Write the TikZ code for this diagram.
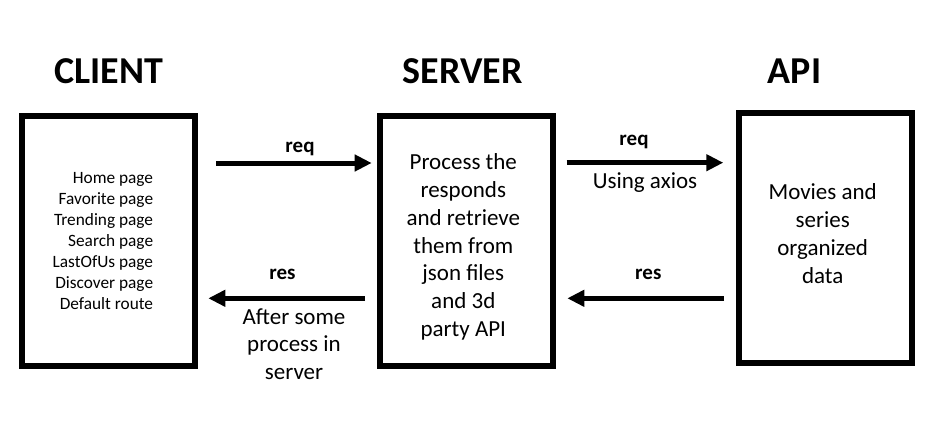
\documentclass[tikz,border=0pt]{standalone}
\usepackage{fontspec}
\setmainfont{Carlito}
\usetikzlibrary{arrows.meta}
\begin{document}
\begin{tikzpicture}[x=1pt,y=-1pt,
  box/.style={draw=black, line width=6pt, fill=white, inner sep=0pt},
  flow/.style={line width=5pt, -{Triangle[length=17pt,width=16pt]}},
  heading/.style={font=\fontsize{38}{42}\selectfont\bfseries, anchor=base, inner sep=0pt},
  lbl/.style={font=\fontsize{21}{25}\selectfont\bfseries, anchor=base, inner sep=0pt},
  body/.style={font=\fontsize{23}{27.8}\selectfont, inner sep=0pt, align=center},
  small/.style={font=\fontsize{17.3}{21}\selectfont, inner sep=0pt, align=right}
]
\useasboundingbox[fill=white] (0,0) rectangle (927,429);

% headings
\node[heading] (hclient) at (108.5,83) {CLIENT};
\node[heading] (hserver) at (462.5,83) {SERVER};
\node[heading] (hapi) at (794.5,83) {API};

% boxes
\node[box, minimum width=173.2pt, minimum height=250.3pt] (client) at (108.1,241.15) {};
\node[box, minimum width=173pt, minimum height=250.3pt] (server) at (466.5,241.15) {};
\node[box, minimum width=173.3pt, minimum height=250pt] (api) at (825.65,238) {};

% box texts
\node[small, anchor=east] (clist) at (153.3,241.5) {Home page\\Favorite page\\Trending page\\Search page\\LastOfUs page\\Discover page\\Default route};
\node[body] (stext) at (463.3,247) {Process the\\responds\\and retrieve\\them from\\json files\\and 3d\\party API};
\node[body] (atext) at (822.7,233.5) {Movies and\\series\\organized\\data};

% arrow end points
\coordinate (a1s) at (216,163);
\coordinate (a1e) at (371.7,163);
\coordinate (a2s) at (365,298.3);
\coordinate (a2e) at (208.3,298.3);
\coordinate (a3s) at (566.7,162.7);
\coordinate (a3e) at (723.3,162.7);
\coordinate (a4s) at (724,298.3);
\coordinate (a4e) at (567.3,298.3);

\draw[flow] (a1s) -- (a1e);
\draw[flow] (a2s) -- (a2e);
\draw[flow] (a3s) -- (a3e);
\draw[flow] (a4s) -- (a4e);

% labels
\node[lbl] (req1) at (300,152) {req};
\node[lbl] (res1) at (282.5,279.3) {res};
\node[lbl] (req2) at (634,145) {req};
\node[lbl] (res2) at (648.3,279.3) {res};
\node[body, anchor=base] (axios) at (645,188.3) {Using axios};
\node[body] (after) at (294,344) {After some\\process in\\server};
\end{tikzpicture}
\end{document}
